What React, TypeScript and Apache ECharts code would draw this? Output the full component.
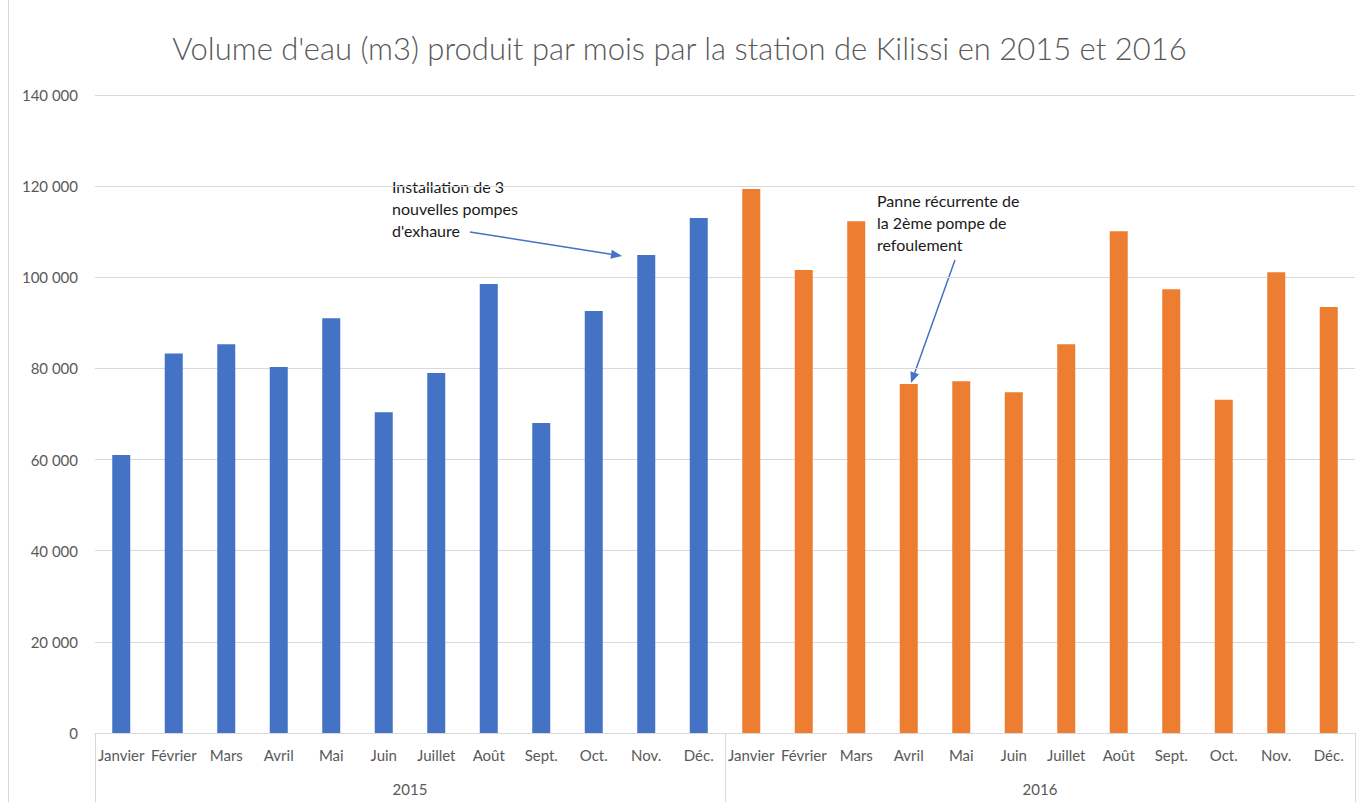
import React, { useEffect, useRef } from "react";
import * as echarts from "echarts";

const months = ["Janvier", "Février", "Mars", "Avril", "Mai", "Juin", "Juillet", "Août", "Sept.", "Oct.", "Nov.", "Déc."];
const years = ["2015", "2016"];
const values2015 = [61000, 83300, 85300, 80300, 91000, 70400, 79000, 98500, 68000, 92600, 104900, 113000];
const values2016 = [119400, 101600, 112300, 76600, 77200, 74800, 85300, 110100, 97400, 73100, 101100, 93500];
const titleText = "Volume d'eau (m3) produit par mois par la station de Kilissi en 2015 et 2016";
const note1 = ["Installation de 3", "nouvelles pompes", "d'exhaure"];
const note2 = ["Panne récurrente de", "la 2ème pompe de", "refoulement"];

const FONT = "Lato";
const GREY = "#595959";
const BLUE = "#4472C4";
const ORANGE = "#ED7D31";

function arrow(x1: number, y1: number, x2: number, y2: number) {
  const dx = x2 - x1, dy = y2 - y1;
  const len = Math.sqrt(dx * dx + dy * dy);
  const ux = dx / len, uy = dy / len;
  const hl = 11, hw = 4.5;
  const bx = x2 - ux * hl, by = y2 - uy * hl;
  return [
    { type: "line", shape: { x1, y1, x2: bx, y2: by }, style: { stroke: BLUE, lineWidth: 1.5 } },
    {
      type: "polygon",
      shape: { points: [[x2, y2], [bx - uy * hw, by + ux * hw], [bx + uy * hw, by - ux * hw]] },
      style: { fill: BLUE },
    },
  ];
}

export default function App() {
  const ref = useRef<HTMLDivElement>(null);
  useEffect(() => {
    const chart = echarts.init(ref.current!, null, { renderer: "svg" });
    const categories = [...months, ...months];
    const s2015 = [...values2015, ...months.map(() => "-")];
    const s2016 = [...months.map(() => "-"), ...values2016];
    const gridBox = { left: 95, right: 4, top: 95, bottom: 69 };
    const noteStyle = { fill: "#1a1a1a", font: `16px ${FONT}`, verticalAlign: "middle" };
    chart.setOption({
      animation: false,
      backgroundColor: "#fff",
      title: {
        text: titleText,
        left: "center",
        top: 27,
        textStyle: { color: GREY, fontFamily: FONT, fontSize: 31, fontWeight: 300 },
      },
      grid: [gridBox, gridBox],
      xAxis: [
        {
          type: "category",
          gridIndex: 0,
          data: categories,
          axisLine: { lineStyle: { color: "#d9d9d9" } },
          axisTick: { show: false },
          axisLabel: { interval: 0, color: GREY, fontFamily: FONT, fontSize: 15, margin: 14, hideOverlap: false },
        },
        {
          type: "category",
          gridIndex: 1,
          data: years,
          axisLine: { show: false },
          axisTick: { show: true, length: 69, lineStyle: { color: "#d9d9d9" } },
          axisLabel: { color: GREY, fontFamily: FONT, fontSize: 15, margin: 48 },
        },
      ],
      yAxis: [
        {
          type: "value",
          gridIndex: 0,
          min: 0,
          max: 140000,
          interval: 20000,
          axisLine: { show: false },
          axisTick: { show: false },
          splitLine: { lineStyle: { color: "#d9d9d9" } },
          axisLabel: {
            color: GREY,
            fontFamily: FONT,
            fontSize: 15,
            margin: 17,
            formatter: (v: number) => String(v).replace(/\B(?=(\d{3})+(?!\d))/g, " "),
          },
        },
        { type: "value", gridIndex: 1, min: 0, max: 1, show: false },
      ],
      series: [
        { name: "2015", type: "bar", stack: "v", barWidth: 18, data: s2015, itemStyle: { color: BLUE } },
        { name: "2016", type: "bar", stack: "v", barWidth: 18, data: s2016, itemStyle: { color: ORANGE } },
      ],
      graphic: [
        { type: "line", shape: { x1: 8.5, y1: 0, x2: 8.5, y2: 802 }, style: { stroke: "#d9d9d9", lineWidth: 1 } },
        ...note1.map((t, i) => ({ type: "text", x: 392, y: 186 + i * 22, style: { ...noteStyle, text: t } })),
        ...note2.map((t, i) => ({ type: "text", x: 877, y: 200 + i * 22, style: { ...noteStyle, text: t } })),
        ...arrow(470, 232, 622, 256),
        ...arrow(955, 260, 911, 383),
      ],
    });
    return () => chart.dispose();
  }, []);
  return <div ref={ref} style={{ position: "absolute", left: 0, top: 0, width: 1359, height: 802 }} />;
}
